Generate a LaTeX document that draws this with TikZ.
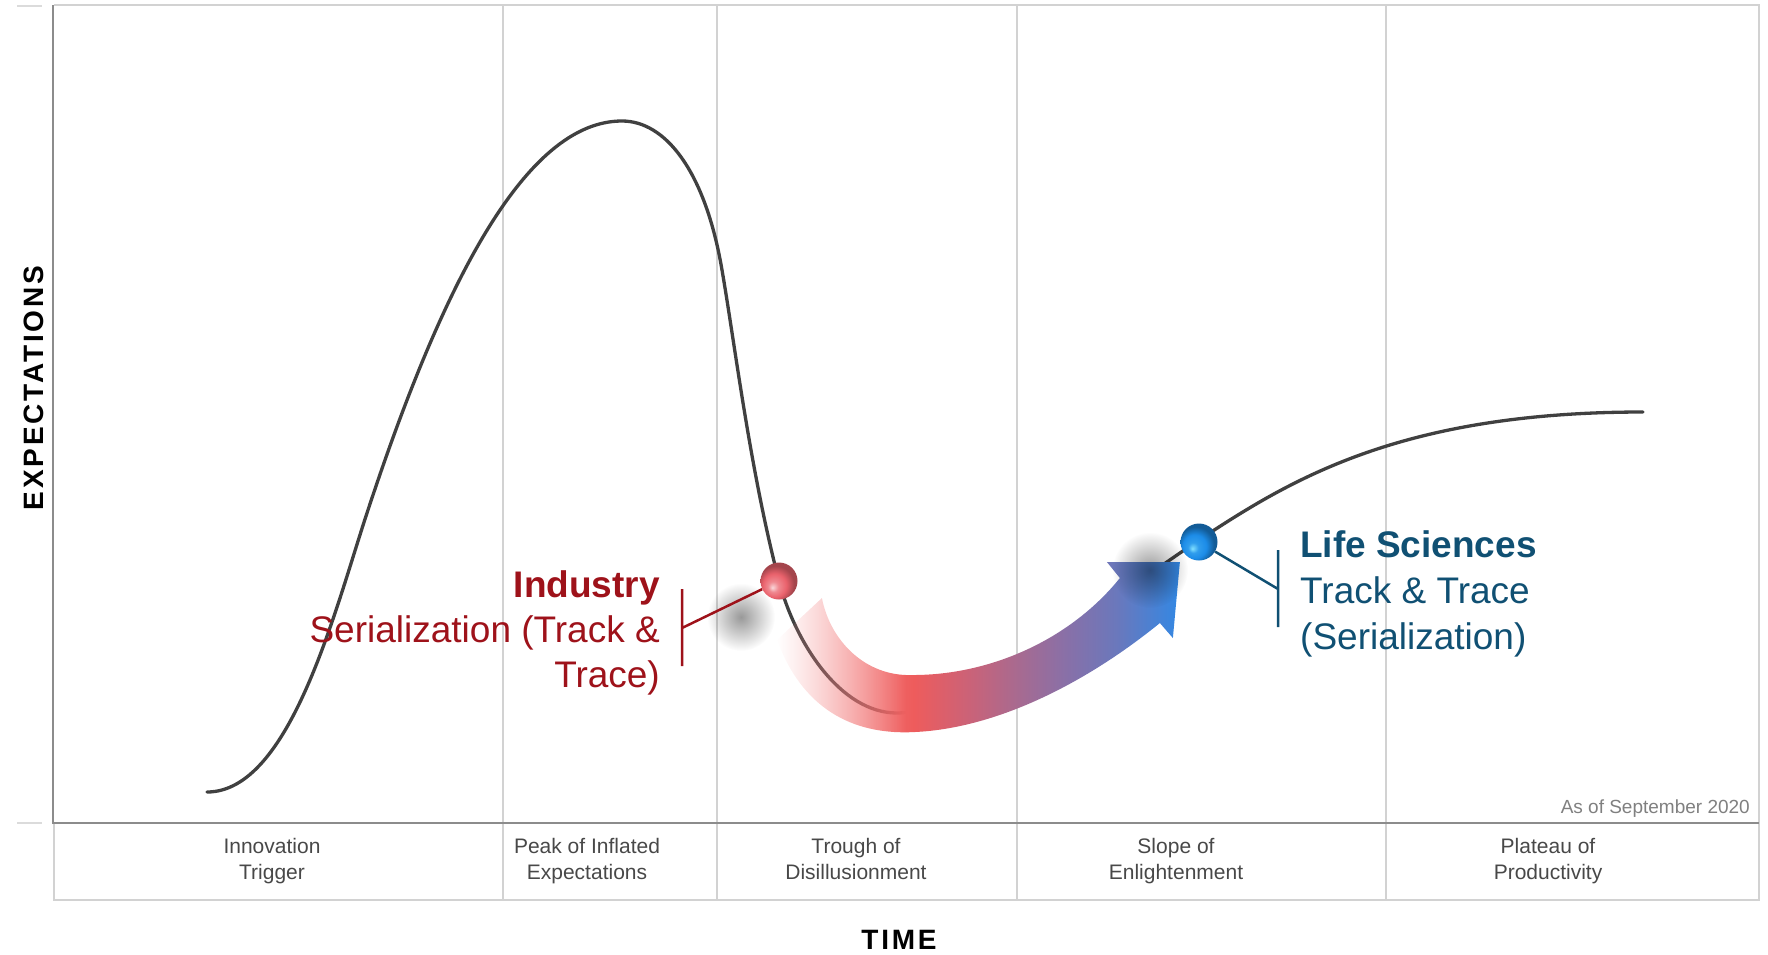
\documentclass[tikz,border=0pt]{standalone}
\usepackage{fontspec}
\setmainfont{Liberation Sans}
\newfontfamily\axisfont[LetterSpace=10]{Liberation Sans}
\usetikzlibrary{fadings}

\definecolor{curvegray}{RGB}{64,64,64}
\definecolor{gridgray}{RGB}{210,210,210}
\definecolor{axisgray}{RGB}{140,140,140}
\definecolor{phasegray}{RGB}{72,72,72}
\definecolor{notegray}{RGB}{128,128,128}
\definecolor{indred}{RGB}{158,18,26}
\definecolor{lsblue}{RGB}{16,80,115}
\definecolor{bandA}{RGB}{245,150,150}
\definecolor{bandB}{RGB}{238,92,92}
\definecolor{bandC}{RGB}{204,98,119}
\definecolor{bandD}{RGB}{168,106,144}
\definecolor{bandE}{RGB}{136,112,168}
\definecolor{bandF}{RGB}{106,120,188}
\definecolor{bandG}{RGB}{50,136,228}
\definecolor{redbead}{RGB}{234,98,108}
\definecolor{bluebead}{RGB}{28,140,232}
\definecolor{bluelight}{RGB}{130,225,255}

% colour along the big arrow, and its fade-in at the start
\pgfdeclarehorizontalshading{bandshade}{100bp}{color(0bp)=(bandA); color(25bp)=(bandA); color(42bp)=(bandB); color(48.6bp)=(bandC); color(54.8bp)=(bandD); color(61bp)=(bandE); color(67.2bp)=(bandF); color(75bp)=(bandG); color(100bp)=(bandG)}
\pgfdeclarehorizontalshading{bandmask}{100bp}{color(0bp)=(black); color(25bp)=(black); color(41bp)=(white); color(100bp)=(white)}
\pgfdeclarefading{bandfade}{\pgfuseshading{bandmask}}
\tikzfading[name=softblob, inner color=transparent!60, outer color=transparent!100]

% the two beads, lit from below left
\pgfdeclareradialshading{redbeadshade}{\pgfqpoint{-9bp}{-9bp}}{color(0bp)=(redbead!25!white); color(7bp)=(redbead!75!white); color(16bp)=(redbead); color(25bp)=(redbead!70!black); color(50bp)=(redbead!70!black)}
\pgfdeclareradialshading{bluebeadshade}{\pgfqpoint{-9bp}{-9bp}}{color(0bp)=(bluelight); color(7bp)=(bluebead!80!bluelight); color(16bp)=(bluebead); color(25bp)=(bluebead!65!black); color(50bp)=(bluebead!65!black)}

\begin{document}
\begin{tikzpicture}[x=1pt,y=-1pt,
  gridline/.style={draw=gridgray, line width=2pt},
  axisline/.style={draw=axisgray, line width=2.5pt},
  tickline/.style={draw=gridgray!80, line width=2pt},
  hypecurve/.style={draw=curvegray, line width=3.3pt, line cap=round},
  phaselabel/.style={font=\fontsize{21}{26}\selectfont, text=phasegray, align=center, anchor=north, inner sep=0pt},
  bigtext/.style={font=\fontsize{37}{45}\selectfont, inner sep=0pt},
  ballnode/.style={circle, minimum size=37pt, inner sep=0pt}]
\useasboundingbox (0,0) rectangle (1768,954);

% frame, phase separators
\foreach \x in {503,717,1017,1386}
  \draw[gridline] (\x,5) -- (\x,900);
\draw[gridline] (54,5) -- (1759,5) -- (1759,900) -- (54,900) -- (54,823);
\draw[axisline] (53,5) -- (53,823) -- (1759,823);
\draw[tickline] (17,6) -- (42,6) (17,823) -- (42,823);

% the hype curve
\draw[hypecurve] (207,792) .. controls (290,792) and (335,610) .. (367,513)
  .. controls (442,285) and (525,121) .. (622,121)
  .. controls (665,121) and (705,170) .. (722,270)
  .. controls (735,345) and (750,470) .. (779,581)
  .. controls (795,642) and (840,713) .. (897,713)
  .. controls (960,713) and (1110,600) .. (1199,540)
  .. controls (1290,480) and (1400,412) .. (1643,412);

\fill[black, path fading=softblob] (741,617) circle[radius=34];

% arrow from the trough up the slope
\shade[shading=bandshade, path fading=bandfade]
  (777,640) .. controls (805,715) and (860,735) .. (915,732)
  .. controls (1000,728) and (1090,680) .. (1160,623)
  -- (1173,638) -- (1180,562) -- (1107,562) -- (1120,578)
  .. controls (1070,640) and (990,675) .. (913,675)
  .. controls (865,677) and (830,640) .. (822,598) -- cycle;

\fill[black, path fading=softblob] (1150,570) circle[radius=38];

\node[ballnode, shading=redbeadshade, shade] (redball) at (779,581) {};
\node[ballnode, shading=bluebeadshade, shade] (blueball) at (1199,542) {};

\coordinate (redtop) at (682,589);
\coordinate (redmid) at (682,628);
\coordinate (redbot) at (682,666);
\coordinate (bluetop) at (1278,550);
\coordinate (bluemid) at (1278,589);
\coordinate (bluebot) at (1278,627);
\draw[indred, line width=2.5pt] (redball) -- (redmid) (redtop) -- (redbot);
\draw[lsblue, line width=2.5pt] (blueball) -- (bluemid) (bluetop) -- (bluebot);

\node[bigtext, text=indred, anchor=base east, font=\fontsize{37}{45}\selectfont\bfseries] (industry) at (660,597) {Industry};
\node[bigtext, text=indred, anchor=base east] (indline2) at (660,642) {Serialization (Track \&};
\node[bigtext, text=indred, anchor=base east] (indline3) at (660,687) {Trace)};

\node[bigtext, text=lsblue, anchor=base west, font=\fontsize{37}{45}\selectfont\bfseries] (lifesci) at (1300,557) {Life Sciences};
\node[bigtext, text=lsblue, anchor=base west] (lsline2) at (1300,603) {Track \& Trace};
\node[bigtext, text=lsblue, anchor=base west] (lsline3) at (1300,649) {(Serialization)};

% phase names under the axis
\node[phaselabel] (trigger) at (272,838.5) {Innovation\\Trigger};
\node[phaselabel] (peak) at (587,838.5) {Peak of Inflated\\Expectations};
\node[phaselabel] (trough) at (856,838.5) {Trough of\\Disillusionment};
\node[phaselabel] (slope) at (1176,838.5) {Slope of\\Enlightenment};
\node[phaselabel] (plateau) at (1548,838.5) {Plateau of\\Productivity};

\node[anchor=base east, inner sep=0pt, text=notegray, font=\fontsize{19}{22}\selectfont] (asof) at (1750,813) {As of September 2020};

\node[anchor=base, inner sep=0pt, font=\axisfont\bfseries\fontsize{28}{30}\selectfont] (timelabel) at (899,949) {TIME};
\node[anchor=base, rotate=90, inner sep=0pt, font=\axisfont\bfseries\fontsize{28}{30}\selectfont] (explabel) at (43,388) {EXPECTATIONS};
\end{tikzpicture}
\end{document}
